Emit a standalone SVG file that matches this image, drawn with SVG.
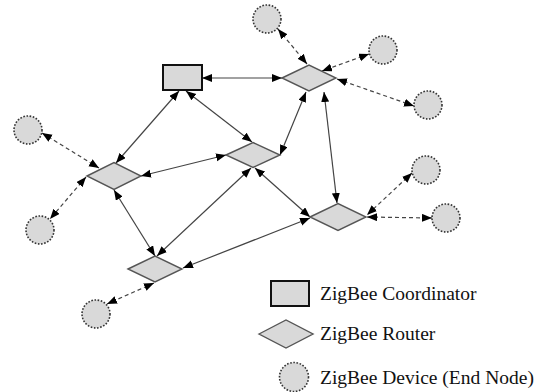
<svg xmlns="http://www.w3.org/2000/svg" width="543" height="392" viewBox="0 0 543 392">
<defs>
<marker id="ah" markerUnits="userSpaceOnUse" markerWidth="11" markerHeight="9" refX="10" refY="4" orient="auto-start-reverse" viewBox="0 0 11 9">
<path d="M0,0 L10,4 L0,8 z" fill="#000"/>
</marker>
<style>
.coord{fill:#d9d9d9;stroke:#111;stroke-width:2}
.router{fill:#d9d9d9;stroke:#555;stroke-width:1.4}
.dev{fill:#d9d9d9;stroke:#333;stroke-width:1.6;stroke-dasharray:1.6 1.6}
.link{stroke:#444;stroke-width:1.2;fill:none;marker-start:url(#ah);marker-end:url(#ah)}
.dlink{stroke:#444;stroke-width:1.2;fill:none;stroke-dasharray:4 3;marker-start:url(#ah);marker-end:url(#ah)}
.lbl{font-family:"Times New Roman","Liberation Serif","DejaVu Serif",serif;font-size:19.5px;fill:#111}
</style>
</defs>
<rect width="543" height="392" fill="#fff"/>
<g id="connectors">
<line class="link" x1="202" y1="78" x2="282" y2="78"/>
<line class="link" x1="179" y1="91" x2="116" y2="163"/>
<line class="link" x1="186" y1="91" x2="252" y2="142"/>
<line class="link" x1="306" y1="92" x2="280" y2="155"/>
<line class="link" x1="324" y1="92" x2="337" y2="203"/>
<line class="link" x1="141" y1="176" x2="226" y2="155"/>
<line class="link" x1="114" y1="190" x2="155" y2="256"/>
<line class="link" x1="251" y1="168" x2="157" y2="256"/>
<line class="link" x1="255" y1="168" x2="310" y2="217"/>
<line class="link" x1="183" y1="268" x2="310" y2="218"/>
<line class="dlink" x1="278" y1="29" x2="307" y2="64"/>
<line class="dlink" x1="369" y1="54" x2="322" y2="71"/>
<line class="dlink" x1="337" y1="79" x2="414" y2="106"/>
<line class="dlink" x1="42" y1="133" x2="99" y2="168"/>
<line class="dlink" x1="86" y1="177" x2="50" y2="219"/>
<line class="dlink" x1="154" y1="283" x2="107" y2="304"/>
<line class="dlink" x1="412" y1="173" x2="367" y2="215"/>
<line class="dlink" x1="367" y1="217" x2="432" y2="218"/>
</g>
<g id="coordinator"><rect class="coord" x="163" y="65" width="39" height="25"/></g>
<g id="routerA"><polygon class="router" points="282,78 309,65 336,78 309,91"/></g>
<g id="routerB"><polygon class="router" points="226,155 253,142.5 280,155 253,167.5"/></g>
<g id="routerC"><polygon class="router" points="87,176 114,162.5 141,176 114,189.5"/></g>
<g id="routerD"><polygon class="router" points="128,269 155,256 182,269 155,282"/></g>
<g id="routerE"><polygon class="router" points="310,217 338,203.5 366,217 338,230.5"/></g>
<g id="dev1"><circle class="dev" cx="267" cy="19" r="14"/></g>
<g id="dev2"><circle class="dev" cx="383" cy="50" r="14"/></g>
<g id="dev3"><circle class="dev" cx="428" cy="105" r="14"/></g>
<g id="dev4"><circle class="dev" cx="426" cy="170" r="14"/></g>
<g id="dev5"><circle class="dev" cx="446" cy="218" r="14"/></g>
<g id="dev6"><circle class="dev" cx="28" cy="130" r="14"/></g>
<g id="dev7"><circle class="dev" cx="40" cy="230" r="14"/></g>
<g id="dev8"><circle class="dev" cx="96" cy="314" r="14"/></g>
<g id="legend">
<rect class="coord" x="271" y="281" width="38" height="25"/>
<text class="lbl" x="320" y="300">ZigBee Coordinator</text>
<polygon class="router" points="259,334 286,320 313,334 286,348"/>
<text class="lbl" x="320" y="340">ZigBee Router</text>
<circle class="dev" cx="294" cy="377" r="14.5"/>
<text class="lbl" x="320" y="384">ZigBee Device (End Node)</text>
</g>
</svg>
